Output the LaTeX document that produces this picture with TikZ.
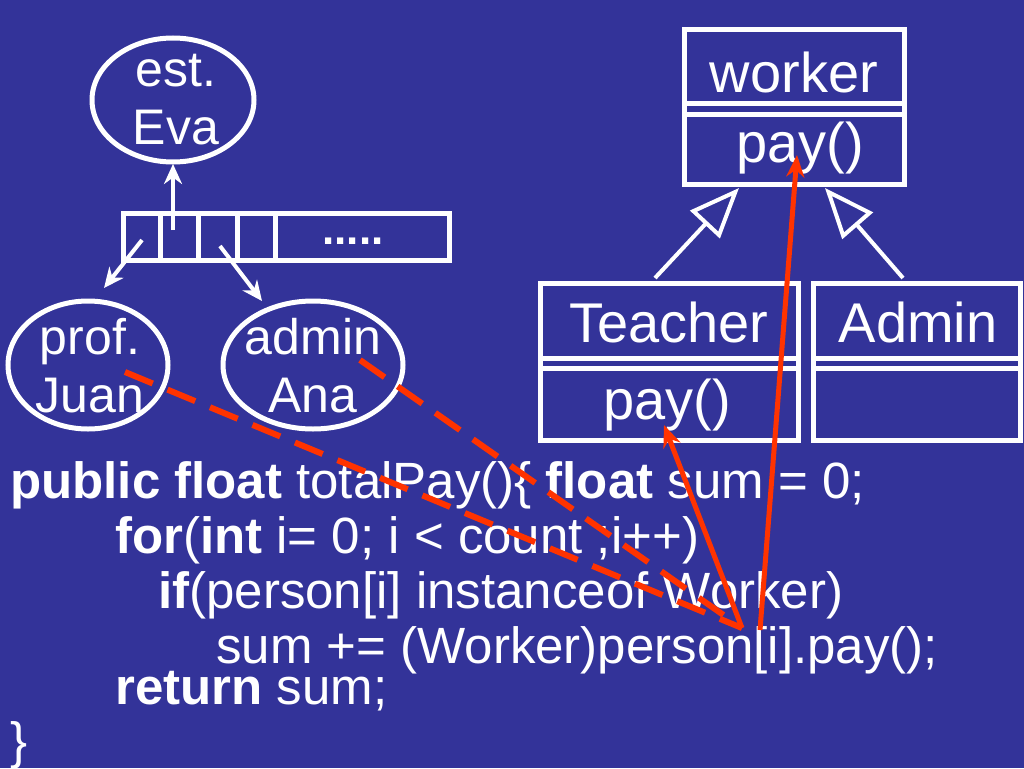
\documentclass[tikz,border=0pt]{standalone}
\usepackage{fontspec}
\setmainfont{Liberation Sans}
\usetikzlibrary{arrows.meta}
\definecolor{bg}{HTML}{333399}
\definecolor{rd}{HTML}{FF3300}
\begin{document}
\begin{tikzpicture}[x=1pt,y=-1pt,
  wl/.style={draw=white,line width=5pt},
  big/.style={text=white,font=\fontsize{56}{60}\selectfont,inner sep=0},
  ell/.style={text=white,align=center,inner sep=0,font=\fontsize{50}{58}\selectfont},
  code/.style={text=white,font=\fontsize{51}{55}\selectfont,anchor=base west,inner sep=0},
  warr/.style={white,line width=4pt,-{Stealth[length=20pt,width=18pt]}},
  redd/.style={rd,line width=6pt,dash pattern=on 30pt off 16pt},
  reda/.style={rd,line width=5pt,-{Stealth[length=22pt,width=18pt]}}]
\fill[bg] (0,0) rectangle (1024,768);
\useasboundingbox (0,0) rectangle (1024,768);
% ellipses
\draw[wl] (173,100) ellipse [x radius=81,y radius=62];
\node[ell] (eva) at (176,100) {est.\\Eva};
\draw[wl] (88,365) ellipse [x radius=80,y radius=64];
\node[ell] (juan) at (90,366) {prof.\\Juan};
\draw[wl] (313,365) ellipse [x radius=90,y radius=64];
\node[ell] (ana) at (313,366) {admin\\Ana};
% array
\draw[wl] (123,213) rectangle (449,260);
\foreach \x in {160,198,237,275} \draw[wl] (\x,213) -- (\x,260);
\node[text=white,font=\bfseries\fontsize{44}{44}\selectfont,anchor=base] (dots) at (353,244) {.....};
\coordinate (a0) at (173,230);
\coordinate (e0) at (173,164);
\draw[warr] (a0) -- (e0);
\coordinate (a1) at (142,240); \coordinate (j0) at (104,288);
\draw[warr] (a1) -- (j0);
\coordinate (a2) at (220,246); \coordinate (n0) at (262,301);
\draw[warr] (a2) -- (n0);
% worker
\draw[wl] (684,30) rectangle (904,184);
\draw[wl] (684,103) -- (904,103); \draw[wl] (684,114) -- (904,114);
\node[big] (worker) at (794,72) {worker};
\node[big] (wpay) at (800,148) {pay()};
% teacher
\draw[wl] (540,283) rectangle (798,440);
\draw[wl] (540,358) -- (798,358); \draw[wl] (540,368) -- (798,368);
\node[big] (teacher) at (669,322) {Teacher};
\node[big] (tpay) at (667,405) {pay()};
% admin
\draw[wl] (813,283) rectangle (1020,440);
\draw[wl] (813,358) -- (1020,358); \draw[wl] (813,368) -- (1020,368);
\node[big] (admin) at (918,322) {Admin};
% inheritance
\coordinate (t1) at (655,278); \coordinate (t2) at (903,278);
\draw[white,line width=4pt,-{Triangle[open,length=50pt,width=40pt,line width=4pt]}] (t1) -- (739,188);
\draw[white,line width=4pt,-{Triangle[open,length=50pt,width=40pt,line width=4pt]}] (t2) -- (825,188);
% code
\node[code] (c1) at (10,498) {\textbf{public float} totalPay()\{ \textbf{float} sum = 0;};
\node[code] (c2) at (115,553) {\textbf{for}(\textbf{int} i= 0; i < count ;i++)};
\node[code] (c3) at (158,608) {\textbf{if}(person[i] instanceof Worker)};
\node[code] (c4) at (216,663) {sum += (Worker)person[i].pay();};
\node[code] (c5) at (115,704) {\textbf{return} sum;};
\node[code] (c6) at (10,758) {\}};
% red
\coordinate (r0) at (742,628); \coordinate (r1) at (760,630);
\coordinate (p1) at (125,372); \coordinate (p2) at (360,360);
\draw[redd] (p1) -- (r0);
\draw[redd] (p2) -- (r0);
\draw[reda] (r0) -- (664,425);
\draw[reda] (r1) -- (797,155);
\end{tikzpicture}
\end{document}
